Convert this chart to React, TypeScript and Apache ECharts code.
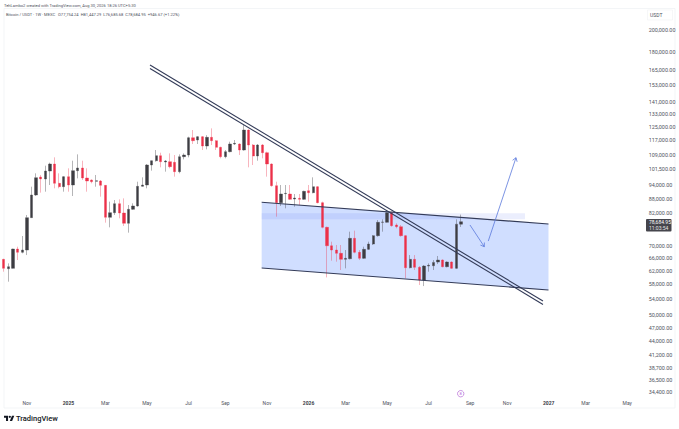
import React, { useEffect, useRef } from "react";
import * as echarts from "echarts";

const opens = [65510,62600,62710,68900,67790,68560,80250,89610,97810,96870,100700,104190,94840,93310,97970,94070,100870,102190,97330,96390,95760,95920,93910,80380,82220,85910,82090,78070,83570,84940,93460,94070,103690,105890,108510,105210,105380,105040,100380,107980,108850,118430,117100,119010,113730,118630,116720,112990,107980,110640,114840,114840,111540,122930,114280,108330,114280,110100,104190,93770,86330,90190,90040,87870,88160,87730,91510,90630,93310,86330,76560,70010,68560,67460,65510,65720,72570,67790,65830,68780,70590,73520,78450,78450,82220,77440,76810,73520,62910,65510,63010,59250,63420,63520,64670,65300,63220,64670,62710,77754.24];
const closes = [62710,63220,68900,67790,68560,80250,89610,97490,96870,100700,104190,94840,93310,97970,94070,100870,102190,97330,95920,95600,96080,93910,80380,82220,85910,82090,78070,83570,84940,93460,94070,103690,105890,108510,105380,105720,102850,100380,107980,108850,118430,116720,119010,113730,118630,116720,112990,107980,110640,114840,115210,111540,122930,114280,108330,114280,110100,104190,93770,86330,90040,90340,87730,88300,87730,91220,90630,93310,86330,76560,70010,68560,67460,65510,65830,72570,67790,65830,68780,70590,73520,78450,78580,82220,77190,76810,73520,62910,65510,63010,59250,63420,63630,64560,65300,63220,64670,62710,77754,78684.95];
const highs = [65700,64250,69000,69680,73400,81300,93310,99570,98770,103350,104870,107630,99570,98290,102020,105890,109200,105890,102020,96700,98770,96390,93910,86750,87450,87730,88160,85350,86050,95600,97650,104190,105990,111540,110100,106240,109740,108850,109200,109740,119010,122930,119400,119400,119900,123930,117100,113360,111540,116140,117100,115210,125950,123330,114840,114840,114840,110640,104530,95600,94070,94070,94070,90040,90040,91510,94070,97650,93610,86750,76810,71400,70250,70250,68560,74960,75330,68560,69680,71400,73760,79340,79600,82630,82630,78070,77440,73760,66900,66900,63420,63730,64250,65300,66590,65510,64880,64880,79600,81447.29];
const lows = [61700,58770,62600,65300,67460,66900,80250,89170,90630,91070,94070,92560,92560,91070,91070,89170,97170,96390,91070,94840,93310,88880,78320,76560,81300,80000,77060,74600,83300,84660,93310,92560,100870,105380,102520,100380,102020,97970,99570,106580,107630,114840,114840,111540,111900,114280,111540,107110,107110,110280,114280,108850,111180,102520,103690,105890,107110,97970,93310,80640,84940,83980,87450,84660,85350,87450,86750,90340,86050,76200,60010,65090,64780,62200,62710,65510,67460,65300,65620,68560,70250,73160,74960,78320,76810,76200,73160,59730,62710,62200,57820,57530,61700,62200,64040,63010,63010,62500,62500,76685.68];

const timeLabels: [number, string][] = [[5,"Nov"],[14,"2025"],[22,"Mar"],[31,"May"],[40,"Jul"],[48,"Sep"],[57,"Nov"],[66,"2026"],[74,"Mar"],[83,"May"],[92,"Jul"],[101,"Sep"],[109,"Nov"],[118,"2027"],[126,"Mar"],[135,"May"]];
const priceTicks = [200000,180000,165000,153000,141000,133000,125000,117000,109000,101500,94000,88000,82000,70000,66000,62000,58000,54000,50000,47000,44000,41200,38700,36500,34400];

const trendUpper = [[31.66,168680],[116.76,53490]];
const trendLower = [[31.66,165840],[116.76,52600]];
const channelTop = [[55.84,86490],[117.95,77820]];
const channelBottom = [[55.84,62820],[117.95,56440]];
const bandRange = [55.84,112.86,81960,79600];
const arrows = [[100.95,77440,104.05,69680],[104.91,71620,110.91,107430]];

const weekCount = 140;
const firstWeek = Date.UTC(2024, 8, 30);
const weeks = Array.from({ length: weekCount }, (_, i) =>
  new Date(firstWeek + i * 7 * 864e5).toISOString().slice(0, 10)
);
const labelMap = new Map(timeLabels);

const FONT = "Roboto";
const TEXT = "#50535e";
const LINE = "#333b58";

const LOGO_D = "M14 22H7V11H0V4h14v18zM28 22h-8l7.5-18h8L28 22z M24 8a4 4 0 1 1-8 0a4 4 0 0 1 8 0z";
echarts.graphic.registerShape("tvmark", (echarts.graphic as any).extendPath(LOGO_D, {}));

export default function App() {
  const ref = useRef<HTMLDivElement>(null);
  useEffect(() => {
    const chart = echarts.init(ref.current!, null, { renderer: "svg" });
    const lineSeries = (data: number[][], name: string, z = 5) => ({
      type: "line", name, xAxisIndex: 1, yAxisIndex: 0, data, symbol: "none", silent: true, z,
      lineStyle: { color: LINE, width: 1.1 }, clip: false,
    });
    chart.setOption({
      animation: false,
      backgroundColor: "#ffffff",
      grid: { left: 1.5, right: 31, top: 9, bottom: 31 },
      xAxis: [
        {
          type: "category", data: weeks, boundaryGap: true,
          axisLine: { show: false }, axisTick: { show: false }, splitLine: { show: false },
          axisLabel: {
            interval: (i: number) => labelMap.has(i), margin: 2.5, fontSize: 5, fontFamily: FONT, color: TEXT,
            formatter: (_: string, i: number) => {
              const s = labelMap.get(i) || "";
              return /^\d/.test(s) ? `{y|${s}}` : s;
            },
            rich: { y: { fontSize: 5, fontWeight: "bold", fontFamily: FONT, color: "#3a3d47" } },
          },
        },
        { type: "value", min: -0.5, max: 139.5, show: false, splitLine: { show: false } },
      ],
      yAxis: {
        type: "log", logBase: 10, min: 33370, max: 221520, show: false, splitLine: { show: false },
      },
      series: [
        {
          type: "custom", name: "channel", xAxisIndex: 1, yAxisIndex: 0, silent: true, z: 1, clip: false,
          data: [[channelTop[0][0], channelTop[0][1], channelTop[1][0], channelTop[1][1], channelBottom[1][0], channelBottom[1][1], channelBottom[0][0], channelBottom[0][1]]],
          encode: { x: 0, y: 1 },
          renderItem: (_: any, api: any) => {
            const pts = [0, 2, 4, 6].map((k) => api.coord([api.value(k), api.value(k + 1)]));
            return { type: "polygon", shape: { points: pts }, style: { fill: "#d0deff" } };
          },
        },
        {
          type: "custom", name: "band", xAxisIndex: 1, yAxisIndex: 0, silent: true, z: 2, clip: false,
          data: [bandRange], encode: { x: 0, y: 2 },
          renderItem: (_: any, api: any) => {
            const a = api.coord([api.value(0), api.value(2)]);
            const b = api.coord([api.value(1), api.value(3)]);
            return { type: "rect", shape: { x: a[0], y: a[1], width: b[0] - a[0], height: b[1] - a[1] }, style: { fill: "rgba(70,100,240,0.11)" } };
          },
        },
        {
          type: "candlestick", name: "BTCUSDT", xAxisIndex: 0, yAxisIndex: 0, silent: true, z: 3, barWidth: 2.8, clip: true,
          data: opens.map((o, i) => [o, closes[i], lows[i], highs[i]]),
          itemStyle: {
            color: "#3d3d42", color0: "#ec3048",
            borderColor: "rgba(70,70,76,0.5)", borderColor0: "rgba(236,48,72,0.45)", borderWidth: 0.8,
          },
        },
        lineSeries(trendUpper, "trend upper"),
        lineSeries(trendLower, "trend lower"),
        lineSeries(channelTop, "channel top"),
        lineSeries(channelBottom, "channel bottom"),
        {
          type: "custom", name: "arrows", xAxisIndex: 1, yAxisIndex: 0, silent: true, z: 6, clip: false,
          data: arrows, encode: { x: 0, y: 1 },
          renderItem: (_: any, api: any) => {
            const s = api.coord([api.value(0), api.value(1)]);
            const e = api.coord([api.value(2), api.value(3)]);
            const ang = Math.atan2(e[1] - s[1], e[0] - s[0]);
            const h = 4.2;
            const p = (d: number) => [e[0] - h * Math.cos(ang + d), e[1] - h * Math.sin(ang + d)];
            const st = { stroke: "#5a78dc", lineWidth: 0.8, fill: "none" };
            return {
              type: "group",
              children: [
                { type: "line", shape: { x1: s[0], y1: s[1], x2: e[0], y2: e[1] }, style: st },
                { type: "polyline", shape: { points: [p(0.6), e, p(-0.6)] }, style: st },
              ],
            };
          },
        },
        {
          type: "custom", name: "price scale", xAxisIndex: 1, yAxisIndex: 0, silent: true, z: 7, clip: false,
          data: priceTicks.map((p) => [0, p]), encode: { x: 0, y: 1 },
          renderItem: (params: any, api: any) => {
            const y = api.coord([0, api.value(1)])[1];
            const v = api.value(1) as number;
            return {
              type: "text",
              style: {
                x: 648.7, y, text: v.toLocaleString("en-US", { minimumFractionDigits: 2, maximumFractionDigits: 2 }),
                fill: TEXT, font: `5.4px ${FONT}`, align: "left", verticalAlign: "middle",
              },
            };
          },
        },
      ],
      graphic: [
        { type: "rect", silent: true, z: 0, shape: { x: 4, y: 8.5, width: 671, height: 399.5 }, style: { fill: "none", stroke: "#eef0f3", lineWidth: 0.7 } },
        { type: "text", silent: true, style: { x: 4, y: 5, text: "TehLambo2 created with TradingView.com, Aug 30, 2026 18:26 UTC+5:30", fill: TEXT, font: `4.05px ${FONT}`, verticalAlign: "middle" } },
        { type: "text", silent: true, style: { x: 6, y: 14, text: "Bitcoin / USDT · 1W · MEXC   O77,754.24  H81,447.29  L76,685.68  C78,684.95  +946.67 (+1.22%)", fill: TEXT, font: `4.05px ${FONT}`, verticalAlign: "middle" } },
        { type: "rect", silent: true, shape: { x: 647.5, y: 10, width: 25, height: 10 }, style: { fill: "#fff", stroke: "#f0f1f4", lineWidth: 0.6 } },
        { type: "text", silent: true, style: { x: 650, y: 15, text: "USDT", fill: TEXT, font: `5px ${FONT}`, verticalAlign: "middle" } },
        { type: "rect", silent: true, z: 20, shape: { x: 646, y: 219, width: 25.5, height: 12.5, r: 1 }, style: { fill: "#45454c" } },
        { type: "text", silent: true, z: 21, style: { x: 649, y: 222.3, text: "78,684.95", fill: "#fff", font: `5px ${FONT}`, verticalAlign: "middle" } },
        { type: "text", silent: true, z: 21, style: { x: 649, y: 228, text: "11:03:54", fill: "#e8e8e8", font: `5px ${FONT}`, verticalAlign: "middle" } },
        { type: "circle", silent: true, shape: { cx: 460.7, cy: 393.7, r: 3.2 }, style: { fill: "#fff", stroke: "#b567d6", lineWidth: 0.7 } },
        { type: "text", silent: true, style: { x: 460.7, y: 393.8, text: "8", fill: "#b567d6", font: `4px ${FONT}`, align: "center", verticalAlign: "middle" } },
        { type: "tvmark", silent: true, x: 4, y: 414.5, scaleX: 0.29, scaleY: 0.29, style: { fill: "#131722" } },
        { type: "text", silent: true, style: { x: 16, y: 418.3, text: "TradingView", fill: "#131722", font: `500 7.5px ${FONT}`, verticalAlign: "middle" } },
      ],
    });
    return () => chart.dispose();
  }, []);
  return <div ref={ref} style={{ position: "fixed", left: 0, top: 0, width: 679, height: 429, background: "#fff" }} />;
}
